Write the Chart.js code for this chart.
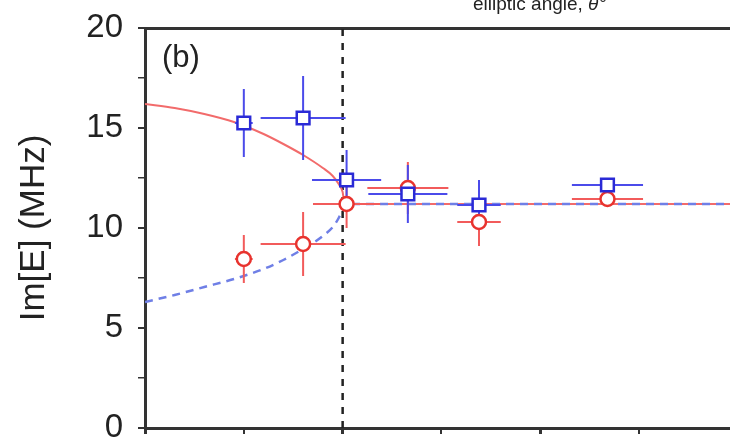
<!DOCTYPE html>
<html>
<head>
<meta charset="utf-8">
<script src="https://cdn.jsdelivr.net/npm/chart.js@4.4.0/dist/chart.umd.min.js"></script>
<style>
    html, body { margin: 0; padding: 0; background: #fff; overflow: hidden; }
    #js--chart { display: block; }
</style>
</head>
<body>
<canvas id="js--chart" width="730" height="442"></canvas>
<script>
// measured points, x = elliptic angle, y = Im[E] in MHz
const pointAngles = [5, 8, 10.2, 13.3, 16.9, 23.4];
const blueValues = [15.25, 15.5, 12.4, 11.7, 11.15, 12.15];
const blueAngleErr = [0.45, 2.15, 1.75, 2.0, 1.1, 1.8];
const blueValueErr = [1.7, 2.1, 1.5, 1.45, 1.25, 0.3];
const redValues = [8.45, 9.2, 11.2, 12.0, 10.3, 11.45];
const redAngleErr = [0.45, 2.15, 1.7, 2.05, 1.1, 1.8];
const redValueErr = [1.2, 1.6, 1.2, 1.3, 1.2, 0.2];

// theory curves
const upperAngles = [0, 1.5, 3, 4.5, 6, 7, 8, 9, 9.5, 9.8, 10, 10.1, 29.6];
const upperValues = [16.2, 16.0, 15.7, 15.3, 14.7, 14.2, 13.65, 13.0, 12.6, 12.2, 11.8, 11.2, 11.2];
const lowerAngles = [0, 1.5, 3, 4.5, 6, 7, 8, 8.5, 9, 9.5, 9.8, 10, 10.1, 29.6];
const lowerValues = [6.3, 6.65, 7.05, 7.45, 7.95, 8.4, 8.95, 9.25, 9.6, 10.05, 10.5, 10.95, 11.2, 11.2];

// exceptional point marker
const epAngle = 10;

// axes
const xTickValues = [0, 5, 10, 15, 20, 25];
const yTickValues = [0, 2.5, 5, 7.5, 10, 12.5, 15, 17.5, 20];
const yTickLabels = ['0', '', '5', '', '10', '', '15', '', '20'];
const yTitle = 'Im[E] (MHz)';
const panelLabel = '(b)';
const topAxisText = 'elliptic angle, ';
const topAxisSymbol = 'θ°';

const font = "'Liberation Sans', Arial, sans-serif";

function toPoints(xs, ys) {
    return xs.map(function (x, i) {
        return { x: x, y: ys[i] };
    });
}

function errorBars(xs, ys, xErr, yErr) {
    let segments = [];
    for (let i = 0; i < xs.length; i++) {
        segments.push({ x: xs[i] - xErr[i], y: ys[i] }, { x: xs[i] + xErr[i], y: ys[i] }, { x: xs[i], y: null });
        segments.push({ x: xs[i], y: ys[i] - yErr[i] }, { x: xs[i], y: ys[i] + yErr[i] }, { x: xs[i], y: null });
    }
    return segments;
}

const labelPlugin = {
    id: 'panelLabels',
    afterDraw: function (chart) {
        const ctx = chart.ctx;
        ctx.save();
        ctx.fillStyle = '#222';
        ctx.font = "31px " + font;
        ctx.textBaseline = 'middle';
        ctx.fillText(panelLabel, chart.chartArea.left + 17, chart.chartArea.top + 30);
        ctx.font = "19px " + font;
        ctx.textBaseline = 'alphabetic';
        ctx.fillText(topAxisText, 473, 10);
        const w = ctx.measureText(topAxisText).width;
        ctx.font = "italic 19px " + font;
        ctx.fillText(topAxisSymbol, 473 + w, 10);
        ctx.restore();
    }
};

const data = {
    datasets: [
        {
            label: 'blue',
            data: toPoints(pointAngles, blueValues),
            pointStyle: 'rect',
            pointRadius: 9,
            pointBorderWidth: 2.5,
            borderColor: '#2a2ad6',
            backgroundColor: '#ffffff',
            showLine: false
        },
        {
            label: 'red',
            data: toPoints(pointAngles, redValues),
            pointStyle: 'circle',
            pointRadius: 7,
            pointBorderWidth: 2.5,
            borderColor: '#e8332e',
            backgroundColor: '#ffffff',
            showLine: false
        },
        {
            label: 'blue error',
            data: errorBars(pointAngles, blueValues, blueAngleErr, blueValueErr),
            showLine: true,
            pointRadius: 0,
            borderColor: '#4b4bea',
            borderWidth: 2
        },
        {
            label: 'red error',
            data: errorBars(pointAngles, redValues, redAngleErr, redValueErr),
            showLine: true,
            pointRadius: 0,
            borderColor: '#f25b5b',
            borderWidth: 2
        },
        {
            label: 'lower branch',
            data: toPoints(lowerAngles, lowerValues),
            showLine: true,
            pointRadius: 0,
            borderColor: '#6f7fe6',
            borderWidth: 2.5,
            borderDash: [8, 6],
            cubicInterpolationMode: 'monotone'
        },
        {
            label: 'upper branch',
            data: toPoints(upperAngles, upperValues),
            showLine: true,
            pointRadius: 0,
            borderColor: '#f26b6b',
            borderWidth: 2,
            cubicInterpolationMode: 'monotone'
        },
        {
            label: 'EP',
            data: [{ x: epAngle, y: 0 }, { x: epAngle, y: 20 }],
            showLine: true,
            pointRadius: 0,
            borderColor: '#222',
            borderWidth: 2.5,
            borderDash: [7, 7]
        }
    ]
};

const config = {
    type: 'scatter',
    data: data,
    plugins: [labelPlugin],
    options: {
        responsive: false,
        animation: false,
        layout: { padding: 0, autoPadding: false },
        plugins: {
            legend: { display: false },
            tooltip: { enabled: false }
        },
        scales: {
            x: {
                type: 'linear',
                position: 'bottom',
                min: 0,
                max: 29.6,
                afterBuildTicks: function (scale) {
                    scale.ticks = xTickValues.map(function (v) { return { value: v }; });
                },
                afterFit: function (scale) {
                    scale.height = 14;
                    scale.paddingLeft = 0;
                    scale.paddingRight = 0;
                },
                ticks: { display: false },
                grid: {
                    drawOnChartArea: false,
                    drawTicks: true,
                    tickLength: 6,
                    color: '#333',
                    lineWidth: function (c) { return c.tick && c.tick.value % 10 === 0 ? 3 : 2; }
                },
                border: { display: true, color: '#333', width: 3 }
            },
            x2: {
                type: 'linear',
                position: 'top',
                min: 0,
                max: 29.6,
                afterFit: function (scale) {
                    scale.height = 28;
                },
                ticks: { display: false },
                grid: { drawOnChartArea: false, drawTicks: false },
                border: { display: true, color: '#333', width: 3 }
            },
            y: {
                type: 'linear',
                min: 0,
                max: 20,
                afterBuildTicks: function (scale) {
                    scale.ticks = yTickValues.map(function (v) { return { value: v }; });
                },
                afterFit: function (scale) {
                    scale.width = 145;
                    scale.paddingTop = 0;
                    scale.paddingBottom = 0;
                },
                ticks: {
                    color: '#222',
                    padding: 15,
                    font: { family: font, size: 33 },
                    callback: function (value, index) {
                        return yTickLabels[index];
                    }
                },
                grid: {
                    drawOnChartArea: false,
                    drawTicks: true,
                    tickLength: 7,
                    color: '#333',
                    lineWidth: function (c) { return c.tick && c.tick.value % 5 === 0 ? 2 : 1.5; }
                },
                border: { display: true, color: '#333', width: 3 },
                title: {
                    display: true,
                    text: yTitle,
                    color: '#222',
                    font: { family: font, size: 35 },
                    padding: { top: 13, bottom: 0 }
                }
            }
        }
    }
};

new Chart(document.getElementById("js--chart"), config);
</script>
</body>
</html>
